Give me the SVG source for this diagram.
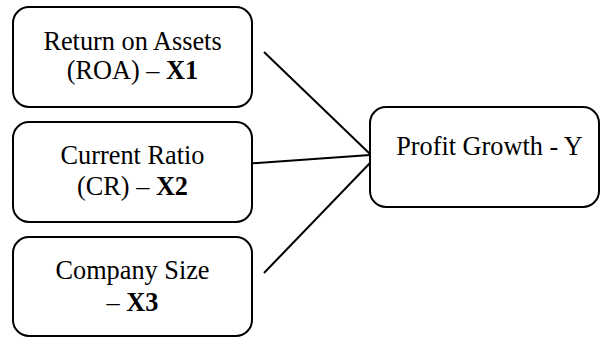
<svg xmlns="http://www.w3.org/2000/svg" width="600" height="339" viewBox="0 0 600 339">
<style>
.box{fill:#fff;stroke:#000;stroke-width:2}
.t{font-family:"Liberation Serif","Times New Roman",serif;font-size:26.3px;fill:#000;text-anchor:middle}
.b{font-weight:bold}
.c line{stroke:#000;stroke-width:2}
</style>
<rect width="600" height="339" fill="#fff"/>
<g id="connectors" class="c">
<line x1="264" y1="52" x2="370" y2="154"/>
<line x1="243" y1="164" x2="370" y2="155"/>
<line x1="264" y1="273" x2="370" y2="163"/>
</g>
<g id="x1">
<rect class="box" x="13" y="7" width="239" height="100" rx="16"/>
<text class="t" x="132.5" y="50">Return on Assets</text>
<text class="t" x="132.5" y="79">(ROA) – <tspan class="b">X1</tspan></text>
</g>
<g id="x2">
<rect class="box" x="13" y="122" width="239" height="100" rx="16"/>
<text class="t" x="132.5" y="164">Current Ratio</text>
<text class="t" x="132.5" y="195">(CR) – <tspan class="b">X2</tspan></text>
</g>
<g id="x3">
<rect class="box" x="13" y="237" width="239" height="99" rx="16"/>
<text class="t" x="132.5" y="279">Company Size</text>
<text class="t" x="132.5" y="311">– <tspan class="b">X3</tspan></text>
</g>
<g id="y">
<rect class="box" x="370" y="107" width="229" height="100" rx="16"/>
<text class="t" x="489.5" y="155">Profit Growth - Y</text>
</g>
</svg>
